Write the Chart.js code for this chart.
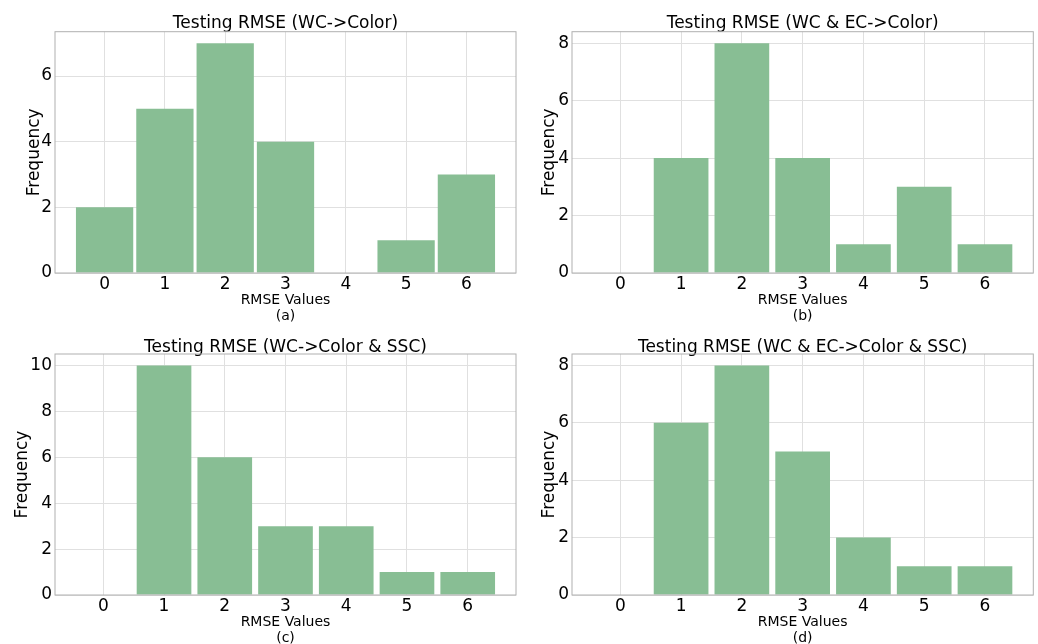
<!DOCTYPE html>
<html>
<head>
<meta charset="utf-8">
<script src="https://cdn.jsdelivr.net/npm/chart.js@4.4.0/dist/chart.umd.min.js"></script>
<style>
  html, body { margin: 0; padding: 0; background: #fff; }
  #wrap { position: relative; width: 1038px; height: 644px; }
  canvas { position: absolute; }
</style>
</head>
<body>
<div id="wrap">
  <canvas id="c0" width="519" height="322" style="left:0;top:0"></canvas>
  <canvas id="c1" width="519" height="322" style="left:519px;top:0"></canvas>
  <canvas id="c2" width="519" height="322" style="left:0;top:322px"></canvas>
  <canvas id="c3" width="519" height="322" style="left:519px;top:322px"></canvas>
</div>
<script>
// histogram bins (RMSE values) and counts per panel
var rmseBins = [0, 1, 2, 3, 4, 5, 6];
var freqA = [2, 5, 7, 4, 0, 1, 3];
var freqB = [0, 4, 8, 4, 1, 3, 1];
var freqC = [0, 10, 6, 3, 3, 1, 1];
var freqD = [0, 6, 8, 5, 2, 1, 1];

var yTicksA = [0, 2, 4, 6];
var yTicksB = [0, 2, 4, 6, 8];
var yTicksC = [0, 2, 4, 6, 8, 10];
var yTicksD = [0, 2, 4, 6, 8];

var titles = [
  'Testing RMSE (WC->Color)',
  'Testing RMSE (WC & EC->Color)',
  'Testing RMSE (WC->Color & SSC)',
  'Testing RMSE (WC & EC->Color & SSC)'
];
var letters = ['(a)', '(b)', '(c)', '(d)'];

var font = 'DejaVu Sans';
var barColor = '#88BE94';
var gridColor = '#e0e0e0';

// matplotlib-like frame on all four sides
var framePlugin = {
  id: 'frame',
  afterDatasetsDraw: function (chart) {
    var a = chart.chartArea, ctx = chart.ctx;
    ctx.save();
    ctx.strokeStyle = '#b0b0b0';
    ctx.lineWidth = 1;
    ctx.strokeRect(a.left, a.top, a.right - a.left, a.bottom - a.top);
    ctx.restore();
  }
};

function makeChart(id, freq, yTicks, yMax, xPad, barPct, idx, opts) {
  var pts = rmseBins.map(function (b, i) { return { x: b, y: freq[i] }; });
  new Chart(document.getElementById(id), {
    type: 'bar',
    data: {
      datasets: [{
        data: pts,
        backgroundColor: barColor,
        borderWidth: 0,
        barPercentage: barPct,
        categoryPercentage: 1
      }]
    },
    plugins: [framePlugin],
    options: {
      responsive: false,
      animation: false,
      layout: { padding: { left: 0, right: opts.right, top: 0, bottom: 0 } },
      plugins: {
        legend: { display: false },
        tooltip: { enabled: false },
        title: {
          display: true,
          text: titles[idx],
          fullSize: false,
          color: '#000',
          font: { family: font, size: 17, weight: 'normal', lineHeight: '20px' },
          padding: { top: opts.titleTop, bottom: opts.titleBottom }
        }
      },
      scales: {
        x: {
          type: 'linear',
          offset: false,
          min: -0.5 - xPad,
          max: 6.5 + xPad,
          afterBuildTicks: function (s) { s.ticks = rmseBins.map(function (v) { return { value: v }; }); },
          afterFit: function (s) { s.height = 49; },
          grid: { color: gridColor, drawTicks: false, offset: false },
          border: { display: false },
          ticks: { color: '#000', padding: 1, font: { family: font, size: 17 } },
          title: {
            display: true,
            text: ['RMSE Values', letters[idx]],
            color: '#000',
            font: { family: font, size: 14, lineHeight: '16px' },
            padding: { top: 0, bottom: -2.5 }
          }
        },
        y: {
          min: 0,
          max: yMax,
          afterBuildTicks: function (s) { s.ticks = yTicks.map(function (v) { return { value: v }; }); },
          afterFit: function (s) { s.width = opts.yWidth; },
          grid: { color: gridColor, drawTicks: false },
          border: { display: false },
          ticks: { color: '#000', padding: 3, font: { family: font, size: 17 } },
          title: {
            display: true,
            text: 'Frequency',
            color: '#000',
            font: { family: font, size: 17 },
            padding: { top: opts.yTitle, bottom: 0 }
          }
        }
      }
    }
  });
}

makeChart('c0', freqA, yTicksA, 7.35, 0.3225, 0.95, 0, { right: 3, yWidth: 55, yTitle: 24.5, titleTop: 13.7, titleBottom: -2 });
makeChart('c1', freqB, yTicksB, 8.4, 0.295, 0.9, 1, { right: 4.7, yWidth: 53, yTitle: 20.5, titleTop: 13.7, titleBottom: -2 });
makeChart('c2', freqC, yTicksC, 10.5, 0.295, 0.9, 2, { right: 3, yWidth: 55, yTitle: 12.5, titleTop: 16, titleBottom: -4 });
makeChart('c3', freqD, yTicksD, 8.4, 0.295, 0.9, 3, { right: 4.7, yWidth: 53, yTitle: 20.5, titleTop: 16, titleBottom: -4 });
</script>
</body>
</html>
